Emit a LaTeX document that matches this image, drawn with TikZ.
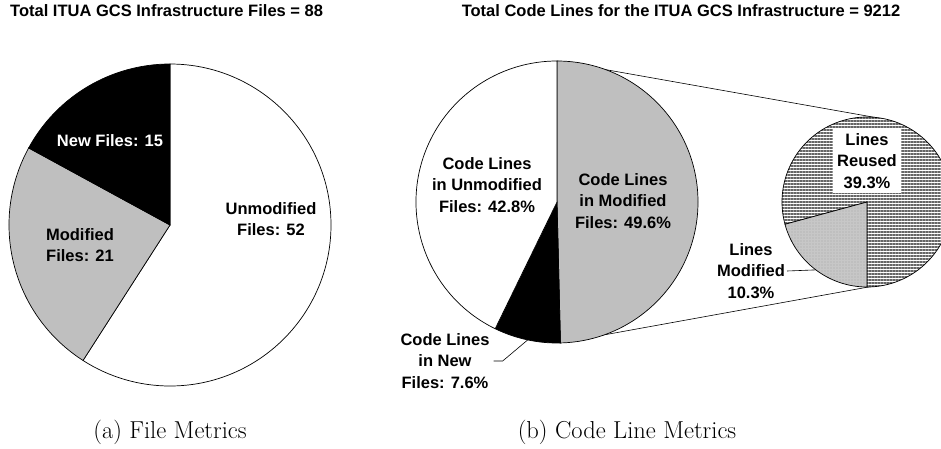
\documentclass[tikz,border=0pt]{standalone}
\usepackage{fontspec}
\setsansfont{Liberation Sans}
\usetikzlibrary{patterns.meta}

\tikzset{
    lbl/.style={font=\sffamily\bfseries\fontsize{16.5}{21.5}\selectfont, align=center, inner sep=1pt},
    ttl/.style={font=\sffamily\bfseries\fontsize{16.5}{19}\selectfont, inner sep=0pt},
    subcap/.style={font=\fontsize{24.5}{28}\selectfont, inner sep=0pt},
    slice/.style={draw=black, line width=0.7pt},
    leader/.style={draw=black, line width=0.6pt},
}

\begin{document}
\begin{tikzpicture}[x=1pt,y=1pt]
    \useasboundingbox (0,0) rectangle (941,448);

    \coordinate (fc) at (170,223);
    \coordinate (cc) at (557,246);
    \coordinate (zc) at (867,246);

    \foreach \a/\b/\c in {90/-122.7/white, -122.7/-208.6/black!25, 151.4/90/black}{
            {\filldraw[slice, fill=\c] (fc) -- ++(\a:161) arc[start angle=\a, end angle=\b, radius=161] -- cycle;}
    }

    \coordinate (ztop) at ([shift={(90:141)}]cc);
    \coordinate (zbot) at ([shift={(-89:141)}]cc);
    \coordinate (stop) at ([shift={(85:85)}]zc);
    \coordinate (sbot) at ([shift={(-89:85)}]zc);
    \draw[leader] (ztop) -- (stop);
    \draw[leader] (zbot) -- (sbot);

    \foreach \a/\b/\c in {90/-88.6/black!25, -88.6/-116/black, -116/-270/white}{
            {\filldraw[slice, fill=\c] (cc) -- ++(\a:141) arc[start angle=\a, end angle=\b, radius=141] -- cycle;}
    }

    \fill[white] (zc) -- ++(195.2:85) arc[start angle=195.2, end angle=-90, radius=85] -- cycle;
    \filldraw[slice, pattern={Lines[angle=0, distance=3pt, line width=1.2pt]}, pattern color=black!60]
        (zc) -- ++(195.2:85) arc[start angle=195.2, end angle=-90, radius=85] -- cycle;
    \fill[black!22] (zc) -- ++(-90:85) arc[start angle=-90, end angle=-164.8, radius=85] -- cycle;
    \filldraw[slice, pattern={Dots[distance=3pt, radius=0.45pt]}, pattern color=black!60]
        (zc) -- ++(-90:85) arc[start angle=-90, end angle=-164.8, radius=85] -- cycle;

    \node[ttl, anchor=west] (ftitle) at (10,437) {Total ITUA GCS Infrastructure Files = 88};
    \node[ttl] (ctitle) at (681,437) {Total Code Lines for the ITUA GCS Infrastructure = 9212};

    \node[lbl, text=white] (fnew) at (110,307) {New Files: 15};
    \node[lbl] (fmod) at (80,203) {Modified\\Files: 21};
    \node[lbl] (funmod) at (271,229) {Unmodified\\Files: 52};

    \node[lbl] (cunmod) at (487,263) {Code Lines\\in Unmodified\\Files: 42.8\%};
    \node[lbl] (cmod) at (623,247) {Code Lines\\in Modified\\Files: 49.6\%};
    \node[lbl] (cnew) at (445,87) {Code Lines\\in New\\Files: 7.6\%};
    \node[lbl, fill=white, inner sep=4pt] (lreuse) at (867,287) {Lines\\Reused\\39.3\%};
    \node[lbl] (lmod) at (751,177) {Lines\\Modified\\10.3\%};

    \coordinate (newedge) at ([shift={(-102:141)}]cc);
    \coordinate (modedge) at ([shift={(-127:85)}]zc);
    \draw[leader] ([xshift=3pt]cnew.east) -- ++(9,0) -- (newedge);
    \draw[leader] ([xshift=1pt]lmod.east) -- (modedge);

    \node[subcap] (capa) at (170,16) {(a) File Metrics};
    \node[subcap] (capb) at (627,16) {(b) Code Line Metrics};
\end{tikzpicture}
\end{document}
